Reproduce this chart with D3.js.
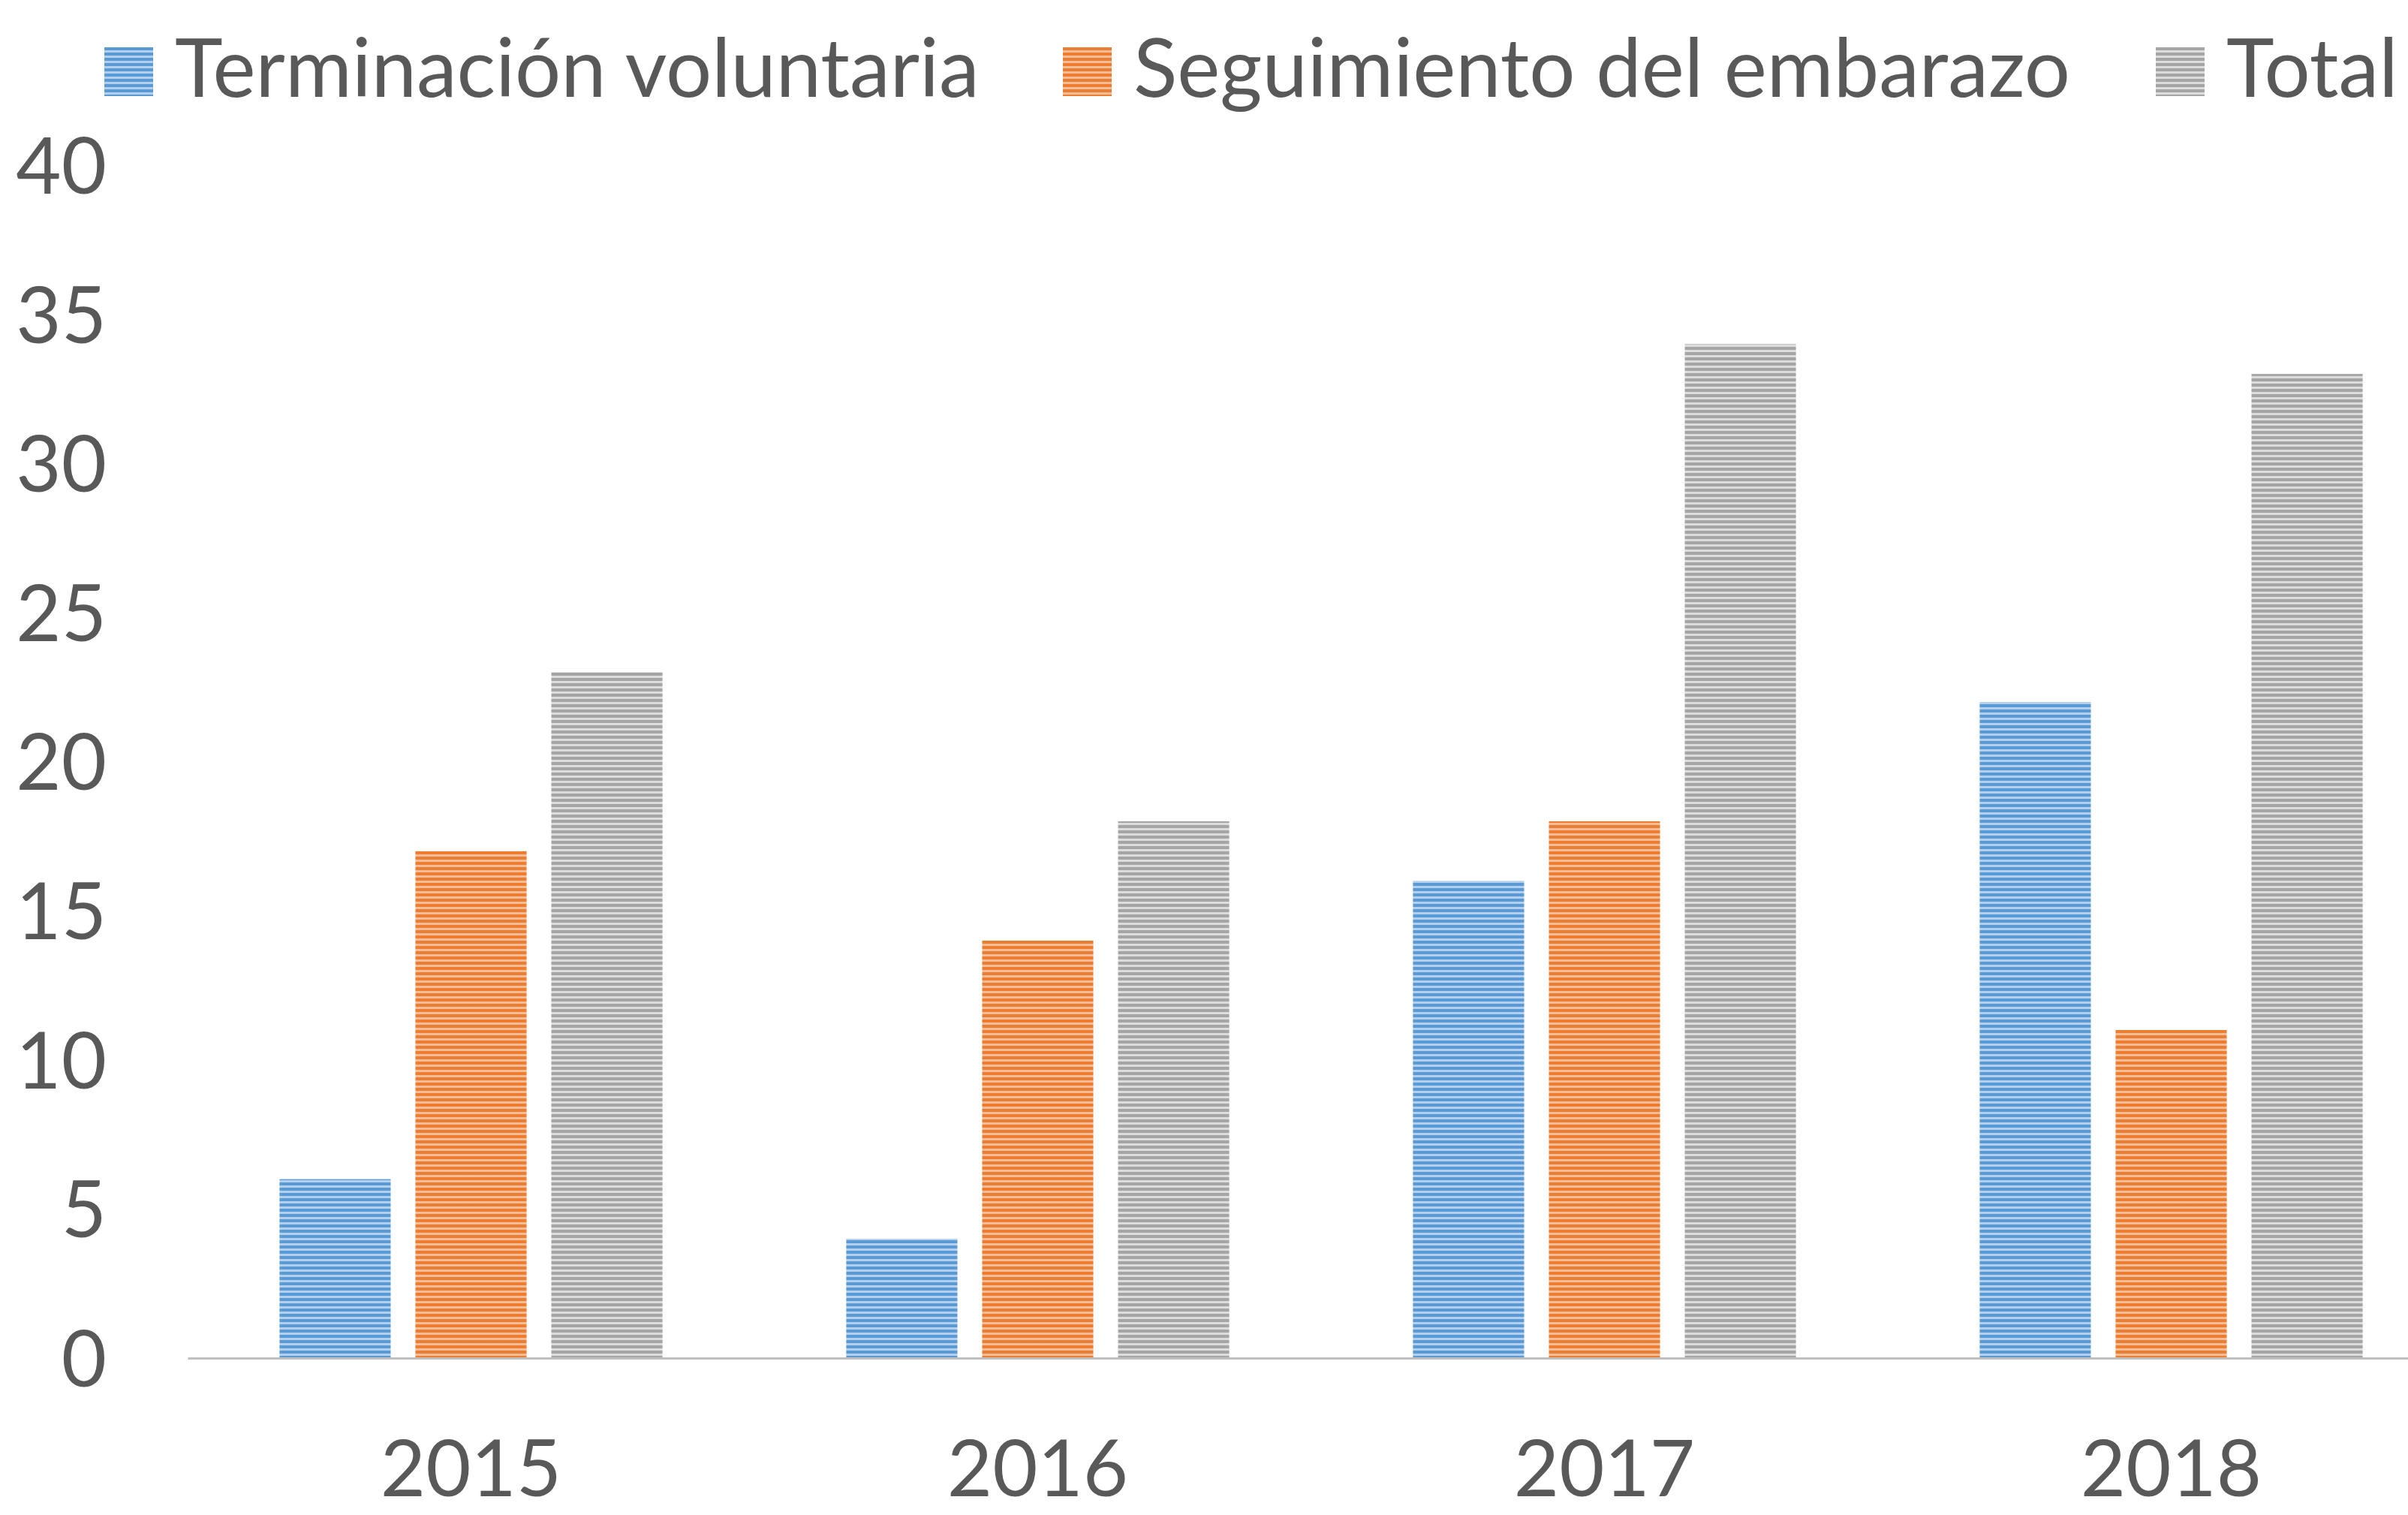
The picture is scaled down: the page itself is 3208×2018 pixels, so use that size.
<!DOCTYPE html>
<html>
<head>
<meta charset="utf-8">
<script src="https://cdn.jsdelivr.net/npm/d3@7"></script>
<style>
  html, body { margin: 0; padding: 0; background: #fff; }
  svg { display: block; }
  text { font-family: Lato, "Open Sans", sans-serif; fill: #595959; }
</style>
</head>
<body>
<svg id="chart"></svg>
<script>
const years = ["2015", "2016", "2017", "2018"];
const seriesNames = ["Terminación voluntaria", "Seguimiento del embarazo", "Total"];
const terminacion = [6, 4, 16, 22];
const seguimiento = [17, 14, 18, 11];
const total = [23, 18, 34, 33];
const yTicks = [0, 5, 10, 15, 20, 25, 30, 35, 40];

const seriesValues = [terminacion, seguimiento, total];
const darkColors = ["#5b9bd5", "#ed7d31", "#a5a5a5"];
const lightColors = ["#b3cfee", "#f6bd96", "#dcdcdc"];

const W = 3208, H = 2018;
const svg = d3.select("#chart").attr("width", W).attr("height", H);

// horizontal stripe fills
const defs = svg.append("defs");
seriesNames.forEach((s, i) => {
  const p = defs.append("pattern")
    .attr("id", "stripe" + i)
    .attr("patternUnits", "userSpaceOnUse")
    .attr("width", 8)
    .attr("height", 7);
  p.append("rect").attr("width", 8).attr("height", 7).attr("fill", lightColors[i]);
  p.append("rect").attr("y", 0).attr("width", 8).attr("height", 4).attr("fill", darkColors[i]);
});

// plot area (chart is cut off on the right, as in the source)
const x0 = d3.scaleBand()
  .domain(years)
  .range([250, 3270])
  .padding(0);

const x1 = d3.scaleBand()
  .domain(seriesNames)
  .range([0, x0.bandwidth()])
  .paddingInner(0.182)
  .paddingOuter(0.676);

const y = d3.scaleLinear()
  .domain([0, 40])
  .range([1809, 220]);

const fontSize = 104;

// bars
years.forEach((year, yi) => {
  const g = svg.append("g").attr("transform", `translate(${x0(year)},0)`);
  g.selectAll("rect")
    .data(seriesNames.map((s, si) => ({ s: s, i: si, v: seriesValues[si][yi] })))
    .enter().append("rect")
    .attr("x", d => x1(d.s))
    .attr("y", d => y(d.v))
    .attr("width", x1.bandwidth())
    .attr("height", d => y(0) - y(d.v))
    .attr("fill", d => `url(#stripe${d.i})`);
});

// x axis
const xAxis = svg.append("g")
  .attr("transform", `translate(0,${y(0)})`)
  .call(d3.axisBottom(x0).tickSize(0).tickPadding(0));
xAxis.select(".domain").attr("stroke", "#bfbfbf").attr("stroke-width", 3);
xAxis.selectAll("text")
  .attr("y", 184)
  .attr("dy", 0)
  .style("font-size", fontSize + "px")
  .attr("fill", "#595959");

// y axis labels (no line)
const yAxis = svg.append("g")
  .attr("transform", "translate(142,0)")
  .call(d3.axisLeft(y).tickValues(yTicks).tickSize(0).tickPadding(0));
yAxis.select(".domain").remove();
yAxis.selectAll("text")
  .attr("dy", "0.36em")
  .style("font-size", fontSize + "px")
  .attr("fill", "#595959");

// legend
const legendX = [139, 1416, 2872];
const legend = svg.append("g");
seriesNames.forEach((s, i) => {
  legend.append("rect")
    .attr("x", legendX[i])
    .attr("y", 63)
    .attr("width", 65)
    .attr("height", 65)
    .attr("fill", `url(#stripe${i})`);
  legend.append("text")
    .attr("x", legendX[i] + 94)
    .attr("y", 129)
    .style("font-size", (fontSize + 4) + "px")
    .text(s);
});
</script>
</body>
</html>
